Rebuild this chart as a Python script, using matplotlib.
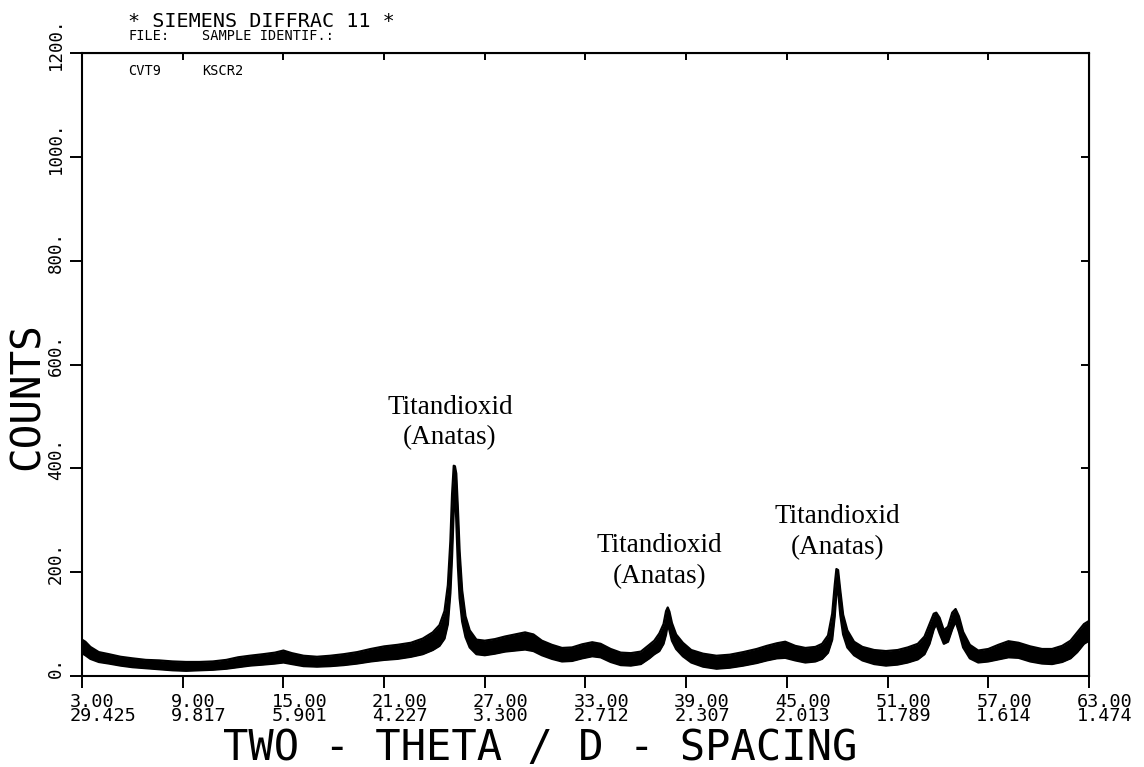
import matplotlib.pyplot as plt
from matplotlib.transforms import blended_transform_factory, offset_copy

# Diffraktogramm: 2-Theta und untere/obere Kante der verrauschten Messkurve (Counts)
two_theta = [3.0, 3.2, 3.5, 4.0, 4.6, 5.3, 6.0, 6.8, 7.6, 8.4, 9.2, 10.0, 10.8,
             11.6, 12.3, 13.0, 13.8, 14.5, 15.0, 15.5, 16.2, 17.0, 17.8, 18.6,
             19.4, 20.2, 21.0, 21.8, 22.6, 23.3, 23.9, 24.3, 24.6, 24.8, 24.95,
             25.05, 25.15, 25.22, 25.3, 25.4, 25.5, 25.65, 25.85, 26.1, 26.5,
             27.0, 27.6, 28.2, 28.8, 29.4, 29.9, 30.4, 31.0, 31.6, 32.2, 32.8,
             33.4, 33.9, 34.5, 35.1, 35.7, 36.3, 36.8, 37.1, 37.4, 37.65, 37.8,
             37.9, 38.0, 38.15, 38.4, 38.8, 39.3, 40.0, 40.8, 41.6, 42.4, 43.2,
             43.8, 44.4, 44.9, 45.5, 46.1, 46.7, 47.1, 47.45, 47.7, 47.85, 47.95,
             48.05, 48.18, 48.35, 48.6, 49.0, 49.5, 50.2, 50.9, 51.6, 52.2, 52.8,
             53.2, 53.5, 53.75, 53.9, 54.1, 54.35, 54.6, 54.85, 55.05, 55.25,
             55.5, 55.9, 56.4, 57.0, 57.6, 58.2, 58.8, 59.5, 60.2, 60.8, 61.4,
             61.9, 62.3, 62.7, 63.0]
counts_low = [44, 40, 33, 27, 24, 20, 17, 15, 13, 11, 10, 11, 12,
              14, 17, 20, 22, 24, 26, 23, 19, 18, 19, 21,
              24, 28, 31, 33, 37, 42, 50, 58, 72, 100, 160,
              230, 320, 370, 300, 210, 150, 105, 75, 55, 42,
              40, 43, 47, 49, 51, 48, 40, 33, 28, 29, 34,
              38, 36, 27, 21, 20, 23, 34, 42, 48, 62, 80,
              100, 88, 68, 52, 38, 26, 18, 14, 16, 20, 25,
              30, 34, 35, 30, 26, 28, 33, 45, 70, 115, 160,
              165, 118, 80, 55, 40, 30, 23, 20, 22, 26, 32,
              42, 62, 90, 100, 82, 62, 66, 90, 105, 85,
              55, 34, 26, 28, 32, 36, 35, 28, 24, 23, 27,
              34, 46, 62, 68]
counts_high = [70, 66, 56, 46, 42, 37, 34, 31, 30, 28, 27, 27, 28,
               31, 36, 39, 42, 45, 49, 44, 39, 37, 39, 42,
               46, 52, 57, 60, 64, 72, 84, 98, 125, 175, 260,
               350, 405, 404, 390, 320, 240, 165, 115, 88, 70,
               68, 71, 76, 80, 84, 80, 68, 60, 54, 55, 61,
               65, 62, 52, 45, 44, 47, 60, 68, 82, 100, 125,
               132, 124, 102, 80, 64, 50, 43, 39, 41, 46, 52,
               58, 63, 66, 58, 54, 56, 62, 78, 120, 175, 206,
               204, 165, 118, 88, 66, 56, 50, 48, 50, 55, 62,
               76, 100, 120, 122, 112, 88, 95, 122, 129, 115,
               85, 60, 49, 52, 60, 67, 64, 57, 52, 52, 58,
               68, 84, 100, 106]

# Achsenbeschriftung
tick_2theta = [3, 9, 15, 21, 27, 33, 39, 45, 51, 57, 63]
tick_2theta_labels = ['3.00', '9.00', '15.00', '21.00', '27.00', '33.00',
                      '39.00', '45.00', '51.00', '57.00', '63.00']
tick_d_labels = ['29.425', '9.817', '5.901', '4.227', '3.300', '2.712',
                 '2.307', '2.013', '1.789', '1.614', '1.474']
count_ticks = [0, 200, 400, 600, 800, 1000, 1200]
count_labels = ['0.', '200.', '400.', '600.', '800.', '1000.', '1200.']

# Peak-Beschriftungen (Lage in 2-Theta / Counts)
peak_names = ['Titandioxid\n(Anatas)'] * 3
peak_x = [24.93, 37.4, 47.99]
peak_y = [446, 179, 235]

mono = 'DejaVu Sans Mono'
W, H = 1144, 767

fig = plt.figure(figsize=(W / 100, H / 100), dpi=100)
ax = fig.add_axes([82 / W, 91 / H, 1007 / W, 623 / H])

ax.fill_between(two_theta, counts_low, counts_high, color='black', lw=0)
ax.plot(two_theta, counts_low, color='black', lw=1.6)
ax.plot(two_theta, counts_high, color='black', lw=1.6)

ax.set_xlim(3, 63)
ax.set_ylim(0, 1200)
for s in ax.spines.values():
    s.set_linewidth(1.5)

ax.set_xticks(tick_2theta)
ax.set_yticks(count_ticks)
ax.tick_params(direction='out', length=8.5, width=1.4,
               labelbottom=False, labelleft=False)

# oben und rechts Striche nach innen
top = ax.secondary_xaxis('top')
top.set_xticks(tick_2theta)
top.tick_params(direction='in', length=5, width=1.4, labeltop=False)
right = ax.secondary_yaxis('right')
right.set_yticks(count_ticks)
right.tick_params(direction='in', length=6, width=1.4, labelright=False)

# x-Beschriftung: 2-Theta und d-Wert eng untereinander
xtrans = offset_copy(blended_transform_factory(ax.transData, ax.transAxes),
                     fig, x=-12, y=-45, units='dots')
for t, lab, dlab in zip(tick_2theta, tick_2theta_labels, tick_d_labels):
    ax.text(t, 0, lab + '\n' + dlab, transform=xtrans, family=mono,
            fontsize=13.3, ha='left', va='baseline', multialignment='left',
            linespacing=0.69)

# y-Beschriftung, gedreht
ytrans = blended_transform_factory(ax.transAxes, ax.transData)
for c, lab in zip(count_ticks, count_labels):
    ax.text(0, c, lab, transform=offset_copy(ytrans, fig, x=-26, y=9, units='dots'),
            family=mono, fontsize=12.5, rotation=90, rotation_mode='anchor',
            ha='center', va='center')

fig.text(223 / W, 1 - 760 / H, 'TWO - THETA / D - SPACING', family=mono,
         fontsize=30.3, ha='left', va='baseline')
fig.text(28 / W, 1 - 396 / H, 'COUNTS', family=mono, fontsize=29.5,
         rotation=90, ha='center', va='center')

# Kopfzeilen des Diffraktometers
fig.text(128 / W, 1 - 27 / H, '* SIEMENS DIFFRAC 11 *', family=mono,
         fontsize=14.5, ha='left', va='baseline')
fig.text(128 / W, 1 - 40 / H, 'FILE:', family=mono, fontsize=9.8, va='baseline')
fig.text(202 / W, 1 - 40 / H, 'SAMPLE IDENTIF.:', family=mono, fontsize=9.8,
         va='baseline')
fig.text(128 / W, 1 - 75 / H, 'CVT9', family=mono, fontsize=9.8, va='baseline')
fig.text(202 / W, 1 - 75 / H, 'KSCR2', family=mono, fontsize=9.8, va='baseline')

for name, x, y in zip(peak_names, peak_x, peak_y):
    ax.text(x, y, name, family='Liberation Serif', fontsize=19.5,
            ha='center', va='baseline', multialignment='center', linespacing=1.3)

fig.savefig('out.png', dpi=100)
